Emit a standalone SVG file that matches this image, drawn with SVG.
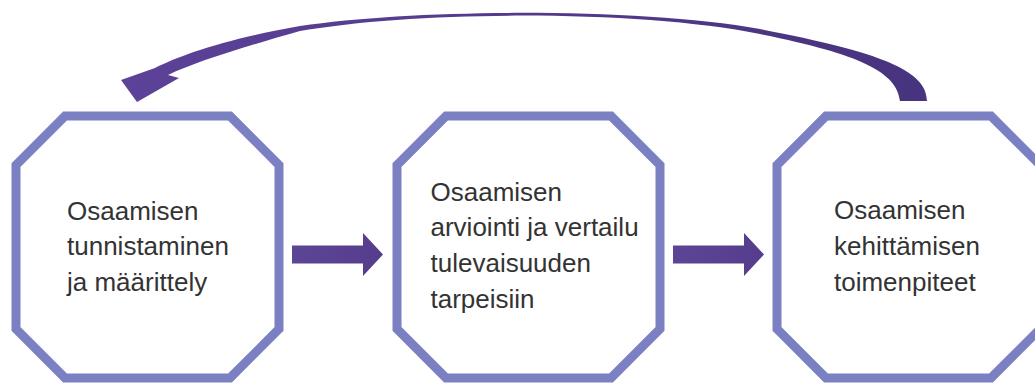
<svg xmlns="http://www.w3.org/2000/svg" width="1035" height="383" viewBox="0 0 1035 383">
  <defs>
    <linearGradient id="curveGrad" x1="0" y1="0" x2="1" y2="0">
      <stop offset="0" stop-color="#5c4298"/>
      <stop offset="1" stop-color="#48337e"/>
    </linearGradient>
    <linearGradient id="arrowGrad" x1="0" y1="0" x2="1" y2="0">
      <stop offset="0" stop-color="#5d4596"/>
      <stop offset="1" stop-color="#563c8c"/>
    </linearGradient>
  </defs>
  <style>
    .oct { fill: #ffffff; stroke: #7b80c3; stroke-width: 9; stroke-linejoin: miter; }
    .lbl { font-family: "Liberation Sans", Arial, sans-serif; font-size: 26px; fill: #333333; }
    .harrow { fill: url(#arrowGrad); }
  </style>
  <rect x="0" y="0" width="1035" height="383" fill="#ffffff"/>

  <g id="node1">
    <polygon class="oct" points="65,116 230,116 279,165 279,329 230,378 65,378 16,329 16,165"/>
    <text class="lbl" x="67" y="219.5">Osaamisen</text>
    <text class="lbl" x="67" y="255.2">tunnistaminen</text>
    <text class="lbl" x="67" y="291">ja määrittely</text>
  </g>

  <g id="node2">
    <polygon class="oct" points="446,116 611,116 660,165 660,329 611,378 446,378 397,329 397,165"/>
    <text class="lbl" x="430.5" y="200.7">Osaamisen</text>
    <text class="lbl" x="430.5" y="236.4">arviointi ja vertailu</text>
    <text class="lbl" x="430.5" y="272">tulevaisuuden</text>
    <text class="lbl" x="430.5" y="307.6">tarpeisiin</text>
  </g>

  <g id="node3">
    <polygon class="oct" points="826,116 991,116 1040,165 1040,329 991,378 826,378 777,329 777,165"/>
    <text class="lbl" x="834" y="219.3">Osaamisen</text>
    <text class="lbl" x="834" y="255">kehittämisen</text>
    <text class="lbl" x="834" y="290.8">toimenpiteet</text>
  </g>

  <g id="connectors">
    <path class="harrow" d="M292,245.5 L363,245.5 L363,233 L383,254.5 L363,276 L363,263.5 L292,263.5 Z"/>
    <path class="harrow" d="M673,245.5 L744,245.5 L744,233 L764,254.5 L744,276 L744,263.5 L673,263.5 Z"/>
    <path fill="url(#curveGrad)" d="M927,101 C927,70 880,52 760,29 C640,8 420,8 300,26 C230,38 180,55 155,68 L121,80 L137,102 L179,78 L168,75 C195,62 240,48 300,31 C420,10 640,10 760,34 C860,54 897,72 900,101 Z"/>
  </g>
</svg>
